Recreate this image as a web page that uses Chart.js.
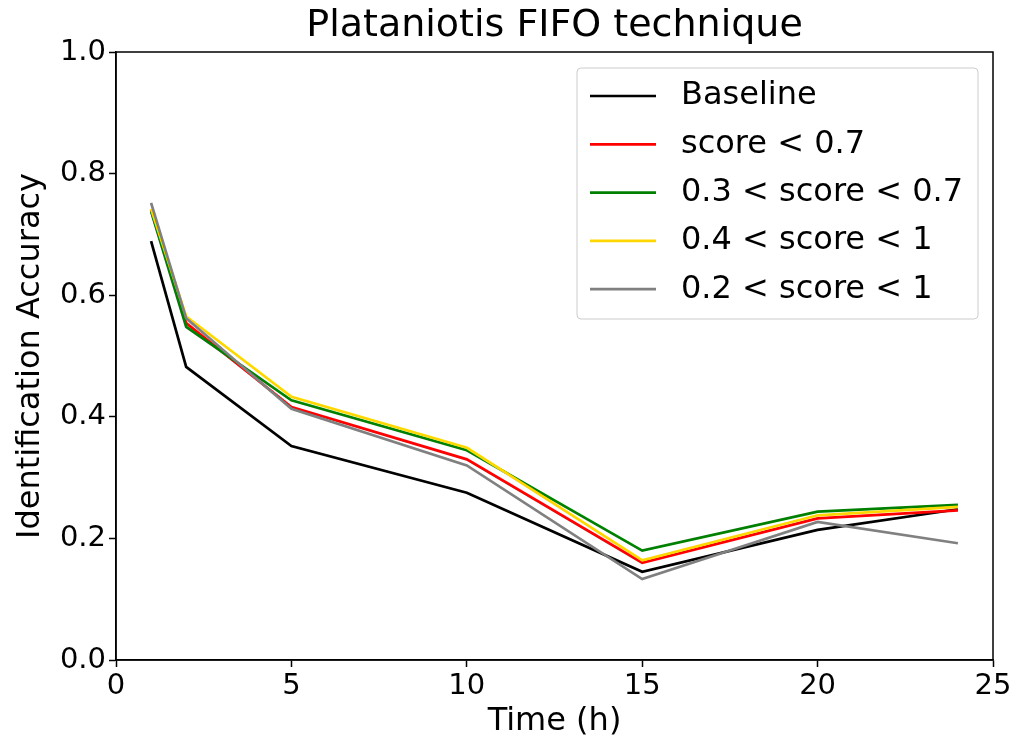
<!DOCTYPE html>
<html lang="en">
<head>
    <meta charset="UTF-8">
    <title>Plataniotis FIFO technique</title>
    <script src="https://cdn.jsdelivr.net/npm/chart.js"></script>
    <style>
        body { margin: 0; background: #fff; }
        .grafico { width: 1016px; height: 744px; }
    </style>
</head>
<body>
    <div class="grafico">
        <canvas id="graficoLinha"></canvas>
    </div>

<script>
    // dados
    const horas = [1, 2, 5, 10, 15, 20, 24];
    const baseline = [0.689, 0.482, 0.352, 0.275, 0.145, 0.214, 0.248];
    const score07 = [0.740, 0.554, 0.416, 0.330, 0.160, 0.233, 0.246];
    const score03a07 = [0.738, 0.548, 0.427, 0.345, 0.180, 0.244, 0.255];
    const score04a1 = [0.742, 0.565, 0.433, 0.349, 0.164, 0.238, 0.252];
    const score02a1 = [0.752, 0.562, 0.413, 0.320, 0.133, 0.227, 0.192];
    const legendas = ['Baseline', 'score < 0.7', '0.3 < score < 0.7', '0.4 < score < 1', '0.2 < score < 1'];
    const cores = ['#000000', '#ff0000', '#008000', '#ffd700', '#808080'];
    const xTicks = [0, 5, 10, 15, 20, 25];
    const yTicks = [0, 0.2, 0.4, 0.6, 0.8, 1.0];
    const titulo = 'Plataniotis FIFO technique';

    const series = [baseline, score07, score03a07, score04a1, score02a1];
    const fonte = 'DejaVu Sans';

    // titulo, moldura e legenda no estilo matplotlib
    const molduraPlugin = {
        id: 'moldura',
        afterDraw(chart) {
            const ctx = chart.ctx;
            const a = chart.chartArea;
            ctx.save();
            ctx.strokeStyle = '#000';
            ctx.lineWidth = 1.5;
            ctx.strokeRect(a.left, a.top, a.right - a.left, a.bottom - a.top);

            // titulo centrado na area do grafico
            ctx.fillStyle = '#000';
            ctx.font = '38px ' + fonte;
            ctx.textAlign = 'center';
            ctx.textBaseline = 'middle';
            ctx.fillText(titulo, (a.left + a.right) / 2, 26);

            // legenda
            const bx = 577, by = 68, bw = 401, bh = 251;
            ctx.fillStyle = 'rgba(255,255,255,0.85)';
            ctx.strokeStyle = '#cccccc';
            ctx.lineWidth = 1;
            ctx.beginPath();
            ctx.roundRect(bx, by, bw, bh, 4);
            ctx.fill();
            ctx.stroke();
            ctx.font = '32px ' + fonte;
            ctx.textAlign = 'left';
            chart.data.datasets.forEach(function (ds, i) {
                const y = 96 + i * 48.3;
                ctx.strokeStyle = ds.borderColor;
                ctx.lineWidth = 2.7;
                ctx.beginPath();
                ctx.moveTo(590, y);
                ctx.lineTo(656, y);
                ctx.stroke();
                ctx.fillStyle = '#000';
                ctx.fillText(ds.label, 681, y);
            });
            ctx.restore();
        }
    };

    const datasets = legendas.map(function (nome, i) {
        return {
            label: nome,
            data: horas.map(function (h, j) { return { x: h, y: series[i][j] }; }),
            borderColor: cores[i],
            backgroundColor: cores[i],
            borderWidth: 2.7,
            pointRadius: 0,
            tension: 0,
            order: legendas.length - i
        };
    });

    const ctx = document.getElementById('graficoLinha');
    new Chart(ctx, {
        type: 'line',
        data: { datasets: datasets },
        options: {
            responsive: true,
            maintainAspectRatio: false,
            animation: false,
            layout: { padding: { left: 0, right: 23, top: 52, bottom: 0 } },
            plugins: {
                legend: { display: false },
                tooltip: { enabled: false },
                title: { display: false }
            },
            scales: {
                x: {
                    type: 'linear',
                    min: 0,
                    max: 25,
                    afterBuildTicks: function (axis) { axis.ticks = xTicks.map(function (v) { return { value: v }; }); },
                    afterFit: function (axis) { axis.height = 84; },
                    grid: { drawOnChartArea: false, drawTicks: true, tickLength: 7, tickWidth: 1.5, color: '#000' },
                    border: { display: true, color: '#000', width: 1.5 },
                    ticks: { color: '#000', font: { family: fonte, size: 29 }, padding: 2, maxRotation: 0 },
                    title: { display: true, text: 'Time (h)', color: '#000', font: { family: fonte, size: 32 }, padding: { top: 0, bottom: 3 } }
                },
                y: {
                    min: 0,
                    max: 1,
                    afterBuildTicks: function (axis) { axis.ticks = yTicks.map(function (v) { return { value: v }; }); },
                    afterFit: function (axis) { axis.width = 116; },
                    grid: { drawOnChartArea: false, drawTicks: true, tickLength: 7, tickWidth: 1.5, color: '#000' },
                    border: { display: true, color: '#000', width: 1.5 },
                    ticks: {
                        color: '#000',
                        font: { family: fonte, size: 29 },
                        padding: 3,
                        callback: function (v) { return Number(v).toFixed(1); }
                    },
                    title: { display: true, text: 'Identification Accuracy', color: '#000', font: { family: fonte, size: 32 }, padding: { top: 11, bottom: 0 } }
                }
            }
        },
        plugins: [molduraPlugin]
    });
</script>
</body>
</html>
